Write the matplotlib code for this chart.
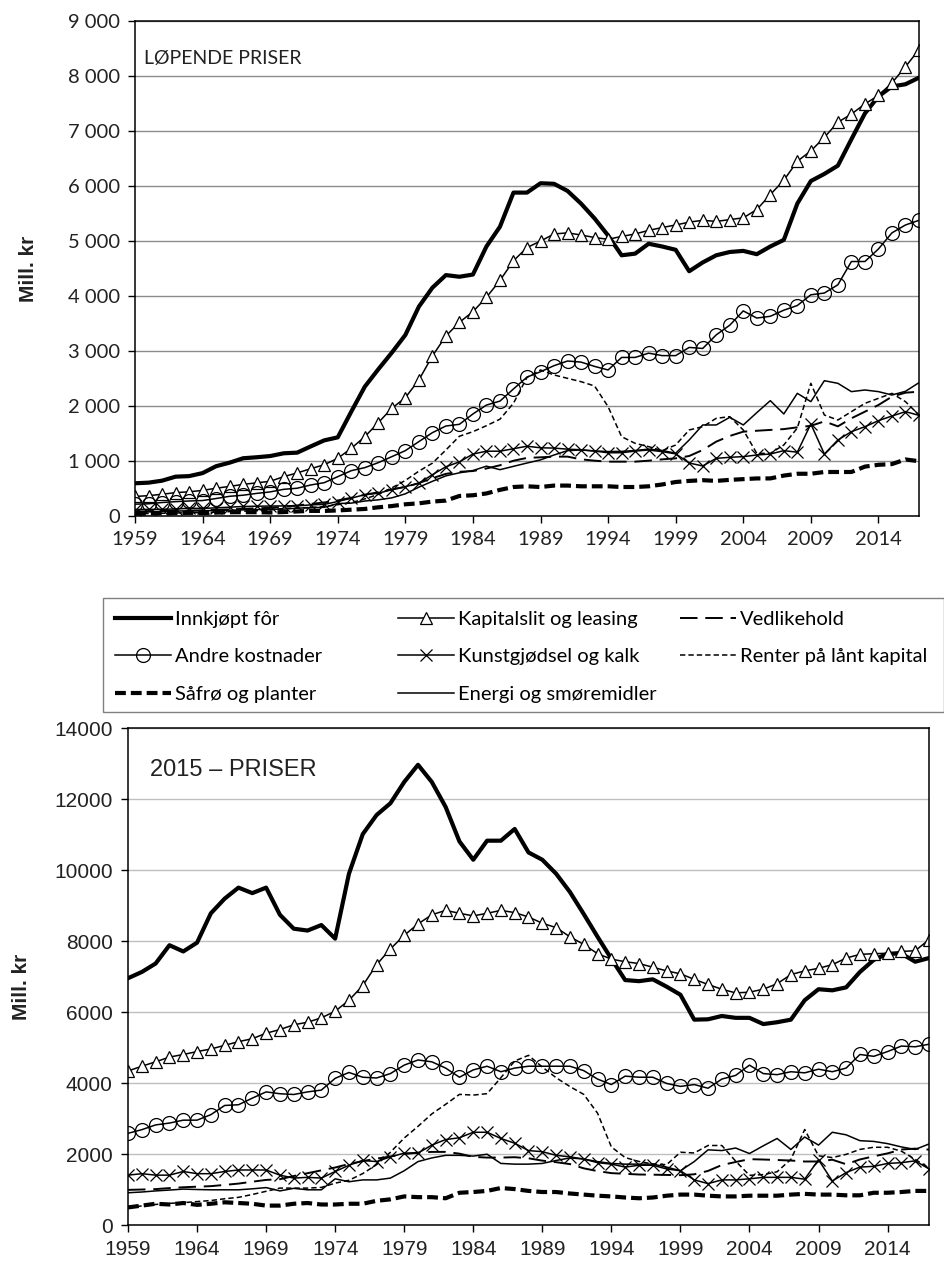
import matplotlib
matplotlib.use("Agg")
import matplotlib.pyplot as plt
from matplotlib.patches import Rectangle
from matplotlib.ticker import FuncFormatter, MultipleLocator

YEARS = list(range(1959, 2018))

LABELS = ["Innkjøpt fôr", "Kapitalslit og leasing", "Vedlikehold", "Andre kostnader",
          "Kunstgjødsel og kalk", "Renter på lånt kapital", "Såfrø og planter",
          "Energi og smøremidler"]

# --- løpende priser (mill. kr) ---
innk_nom = [595, 606, 642, 715, 725, 780, 905, 970, 1050, 1068,
            1090, 1140, 1152, 1265, 1375, 1430, 1897, 2351, 2667, 2970,
            3291, 3806, 4150, 4380, 4350, 4390, 4900, 5260, 5880, 5880,
            6050, 6040, 5910, 5680, 5410, 5100, 4740, 4770, 4950, 4900,
            4840, 4450, 4610, 4740, 4800, 4820, 4760, 4900, 5020, 5680,
            6090, 6220, 6370, 6850, 7320, 7630, 7810, 7850, 7970]
kap_nom = [355, 370, 395, 425, 440, 465, 505, 538, 575, 603,
           631, 715, 783, 860, 932, 1049, 1230, 1442, 1697, 1958,
           2151, 2473, 2909, 3273, 3521, 3715, 3976, 4282, 4640, 4881,
           4998, 5128, 5148, 5109, 5063, 5031, 5083, 5128, 5193, 5245,
           5291, 5343, 5376, 5356, 5389, 5421, 5571, 5844, 6104, 6450,
           6638, 6885, 7159, 7308, 7491, 7647, 7875, 8168, 8480]
vedl_nom = [83, 83, 88, 95, 99, 103, 112, 120, 130, 140,
            148, 168, 192, 220, 246, 283, 331, 385, 432, 483,
            528, 598, 687, 766, 804, 817, 864, 922, 1005, 1056,
            1067, 1079, 1079, 1030, 1006, 988, 988, 988, 1006, 1030,
            1048, 1091, 1200, 1352, 1455, 1533, 1550, 1565, 1580, 1612,
            1640, 1720, 1630, 1776, 1897, 2018, 2170, 2242, 2260]
andre_nom = [215, 222, 245, 261, 273, 281, 318, 358, 378, 411,
             438, 485, 505, 564, 606, 715, 824, 879, 970, 1079,
             1188, 1352, 1515, 1636, 1667, 1855, 2017, 2089, 2310, 2525,
             2623, 2733, 2818, 2798, 2720, 2655, 2883, 2883, 2961, 2916,
             2916, 3065, 3046, 3293, 3469, 3729, 3599, 3631, 3742, 3827,
             4022, 4054, 4204, 4627, 4627, 4855, 5148, 5291, 5376]
kunst_nom = [117, 120, 122, 128, 140, 138, 148, 160, 173, 178,
             181, 183, 184, 202, 211, 263, 324, 388, 413, 480,
             534, 594, 751, 895, 984, 1126, 1178, 1178, 1223, 1269,
             1240, 1235, 1215, 1205, 1180, 1150, 1150, 1180, 1200, 1170,
             1130, 963, 910, 1048, 1067, 1079, 1109, 1127, 1188, 1160,
             1673, 1127, 1382, 1533, 1624, 1733, 1818, 1897, 1830]
renter_nom = [40, 45, 50, 55, 58, 63, 71, 79, 87, 95,
              112, 136, 144, 156, 169, 206, 242, 310, 393, 512,
              646, 815, 960, 1200, 1450, 1533, 1642, 1760, 2050, 2520,
              2655, 2564, 2503, 2442, 2364, 1988, 1442, 1321, 1261, 1188,
              1291, 1564, 1624, 1776, 1806, 1564, 1139, 1139, 1291, 1600,
              2412, 1836, 1745, 1897, 2048, 2139, 2230, 2079, 1836]
safro_nom = [41, 45, 52, 53, 57, 54, 61, 68, 69, 69,
             64, 71, 83, 93, 92, 101, 115, 128, 158, 181,
             213, 230, 262, 280, 364, 377, 410, 475, 527, 540,
             527, 553, 553, 540, 540, 540, 527, 527, 540, 573,
             618, 638, 651, 638, 657, 670, 683, 683, 735, 768,
             768, 800, 800, 800, 898, 931, 944, 1028, 996]
energi_nom = [76, 77, 84, 90, 94, 95, 102, 106, 111, 117,
              123, 125, 143, 149, 158, 227, 234, 272, 294, 330,
              403, 524, 630, 730, 785, 826, 906, 842, 903, 963,
              1020, 1109, 1189, 1199, 1183, 1172, 1175, 1191, 1216, 1191,
              1141, 1382, 1655, 1655, 1794, 1655, 1879, 2097, 1855, 2230,
              2079, 2460, 2412, 2261, 2291, 2261, 2200, 2267, 2424]

# --- 2015-priser (mill. kr) ---
innk_real = [6952, 7128, 7366, 7882, 7706, 7954, 8781, 9194, 9504, 9349,
             9504, 8739, 8347, 8295, 8450, 8068, 9896, 11012, 11549, 11880,
             12479, 12964, 12479, 11776, 10805, 10289, 10826, 10826, 11156, 10495,
             10289, 9896, 9380, 8760, 8120, 7500, 6900, 6869, 6921, 6714,
             6487, 5785, 5795, 5888, 5836, 5836, 5661, 5712, 5785, 6332,
             6642, 6611, 6694, 7128, 7469, 7644, 7644, 7417, 7520]
kap_real = [4339, 4473, 4597, 4731, 4803, 4886, 4958, 5062, 5165, 5248,
            5403, 5506, 5640, 5712, 5836, 6022, 6332, 6745, 7334, 7778,
            8161, 8481, 8739, 8863, 8781, 8708, 8781, 8863, 8801, 8677,
            8501, 8378, 8120, 7903, 7644, 7489, 7417, 7365, 7262, 7159,
            7076, 6921, 6776, 6642, 6539, 6559, 6642, 6797, 7055, 7159,
            7231, 7334, 7520, 7623, 7644, 7654, 7706, 7727, 8037]
vedl_real = [990, 1000, 1012, 1040, 1064, 1080, 1095, 1130, 1167, 1220,
             1271, 1290, 1380, 1460, 1540, 1620, 1720, 1800, 1870, 1930,
             2000, 2040, 2060, 2060, 2010, 1920, 1900, 1900, 1910, 1880,
             1814, 1770, 1716, 1597, 1519, 1462, 1442, 1423, 1418, 1411,
             1404, 1429, 1524, 1690, 1775, 1855, 1845, 1831, 1817, 1789,
             1790, 1840, 1712, 1847, 1935, 2018, 2127, 2152, 2124]
andre_real = [2583, 2686, 2820, 2872, 2954, 2954, 3109, 3368, 3388, 3574,
              3750, 3698, 3677, 3750, 3801, 4132, 4297, 4163, 4142, 4266,
              4504, 4649, 4597, 4421, 4163, 4370, 4473, 4318, 4421, 4473,
              4473, 4473, 4473, 4349, 4111, 3957, 4194, 4163, 4163, 3988,
              3905, 3957, 3853, 4111, 4215, 4504, 4266, 4235, 4318, 4287,
              4390, 4318, 4421, 4804, 4752, 4886, 5041, 5021, 5093]
kunst_real = [1405, 1446, 1405, 1405, 1508, 1446, 1446, 1508, 1550, 1550,
              1550, 1405, 1322, 1343, 1322, 1508, 1684, 1818, 1787, 1921,
              2025, 2025, 2252, 2407, 2459, 2613, 2613, 2438, 2304, 2097,
              2066, 1963, 1921, 1859, 1756, 1715, 1632, 1684, 1684, 1580,
              1529, 1271, 1167, 1271, 1271, 1302, 1343, 1343, 1343, 1291,
              1839, 1240, 1477, 1632, 1653, 1735, 1756, 1808, 1580]
renter_real = [480, 540, 580, 610, 630, 660, 690, 740, 780, 860,
               950, 1040, 1040, 1040, 1060, 1180, 1260, 1450, 1700, 2050,
               2450, 2780, 3130, 3400, 3680, 3660, 3700, 4150, 4620, 4780,
               4450, 4150, 3900, 3680, 3150, 2200, 1900, 1790, 1720, 1700,
               2050, 2030, 2240, 2240, 1800, 1400, 1420, 1500, 1850, 2690,
               1950, 1900, 1990, 2130, 2190, 2190, 2080, 1850, 1600]
safro_real = [496, 547, 599, 578, 620, 568, 599, 640, 620, 599,
              547, 547, 599, 620, 578, 578, 599, 599, 682, 723,
              806, 785, 785, 754, 909, 930, 961, 1043, 1012, 961,
              930, 930, 888, 857, 826, 806, 775, 754, 775, 826,
              857, 857, 826, 806, 806, 826, 826, 826, 857, 878,
              857, 857, 837, 837, 909, 909, 930, 961, 961]
energi_real = [909, 930, 961, 985, 1012, 1000, 992, 992, 992, 1020,
               1054, 961, 1033, 992, 992, 1302, 1219, 1271, 1271, 1322,
               1529, 1787, 1890, 1963, 1963, 1942, 1994, 1735, 1715, 1715,
               1735, 1818, 1890, 1859, 1787, 1735, 1715, 1715, 1715, 1632,
               1529, 1787, 2118, 2097, 2169, 2014, 2231, 2438, 2128, 2479,
               2252, 2613, 2541, 2376, 2355, 2293, 2200, 2128, 2283]

NOMINAL = [innk_nom, kap_nom, vedl_nom, andre_nom, kunst_nom, renter_nom, safro_nom, energi_nom]
REAL = [innk_real, kap_real, vedl_real, andre_real, kunst_real, renter_real, safro_real, energi_real]

XTICKS = list(range(1959, 2015, 5))

STYLES = [
    dict(color="black", lw=3.0, solid_joinstyle="round"),
    dict(color="black", lw=1.1, marker="^", ms=8, mfc="white", mec="black", mew=0.9),
    dict(color="black", lw=1.4, dashes=(9, 4)),
    dict(color="black", lw=1.1, marker="o", ms=10, mfc="none", mec="black", mew=0.9),
    dict(color="black", lw=1.1, marker="x", ms=8, mew=0.9),
    dict(color="black", lw=1.1, dashes=(3.5, 2)),
    dict(color="black", lw=3.0, dashes=(2.6, 1.2)),
    dict(color="black", lw=1.1),
]

TOP_FONT = "Lato"
BOT_FONT = "Liberation Sans"


def draw_panel(ax, series, ymax, step, fmt, font, size, gridcolor):
    lines = []
    for vals, lab, st in zip(series, LABELS, STYLES):
        ln, = ax.plot(YEARS, vals, label=lab, **st)
        lines.append(ln)
    ax.set_xlim(1959, 2017)
    ax.set_ylim(0, ymax)
    ax.yaxis.set_major_locator(MultipleLocator(step))
    ax.yaxis.set_major_formatter(FuncFormatter(fmt))
    ax.set_xticks(XTICKS)
    ax.grid(axis="y", color=gridcolor, lw=1.0)
    ax.set_axisbelow(True)
    for s in ax.spines.values():
        s.set_color("black")
        s.set_linewidth(1.1)
    ax.tick_params(direction="out", length=5, width=1, pad=6)
    for lbl in ax.get_xticklabels() + ax.get_yticklabels():
        lbl.set_fontfamily(font)
        lbl.set_fontsize(size)
        lbl.set_color("#222222")
    ax.set_ylabel("Mill. kr", fontsize=15, fontweight="bold",
                  fontfamily=BOT_FONT, color="#222222")
    return lines


fig = plt.figure(figsize=(9.44, 12.65), dpi=100)

ax1 = fig.add_axes([0.1430, 0.5921, 0.8305, 0.3913])
lines = draw_panel(ax1, NOMINAL, 9000, 1000,
                   lambda v, p: f"{int(v):,}".replace(",", " "),
                   TOP_FONT, 14.5, "#8c8c8c")
ax1.yaxis.set_label_coords(-0.124, 0.5)
ax1.text(0.011, 0.925, "LØPENDE PRISER", transform=ax1.transAxes,
         fontsize=14, fontfamily=TOP_FONT, color="#222222", va="center")

ax2 = fig.add_axes([0.1356, 0.0316, 0.8485, 0.3929])
draw_panel(ax2, REAL, 14000, 2000, lambda v, p: f"{int(v)}",
           BOT_FONT, 15, "#bfbfbf")
ax2.yaxis.set_label_coords(-0.121, 0.48)
ax2.text(0.027, 0.915, "2015 – PRISER", transform=ax2.transAxes,
         fontsize=17, fontfamily=BOT_FONT, color="#222222", va="center")

# legend: shared frame, three equal-pitch columns (like Excel)
fig.patches.append(Rectangle((0.1091, 0.4374), 0.8909, 0.0901, transform=fig.transFigure,
                             fill=False, edgecolor="#808080", lw=1.0))
columns = [[0, 3, 6], [1, 4, 7], [2, 5]]
col_x = [0.1218, 0.4216, 0.7203]
for idx, x0 in zip(columns, col_x):
    leg = fig.legend([lines[i] for i in idx], [LABELS[i] for i in idx],
                     loc="upper left", bbox_to_anchor=(x0, 0.5172),
                     ncol=1, borderaxespad=0, borderpad=0, frameon=False,
                     handlelength=2.8, handletextpad=0.2, labelspacing=1.02,
                     prop={"family": TOP_FONT, "size": 14.5})

fig.savefig("out.png", dpi=100)
